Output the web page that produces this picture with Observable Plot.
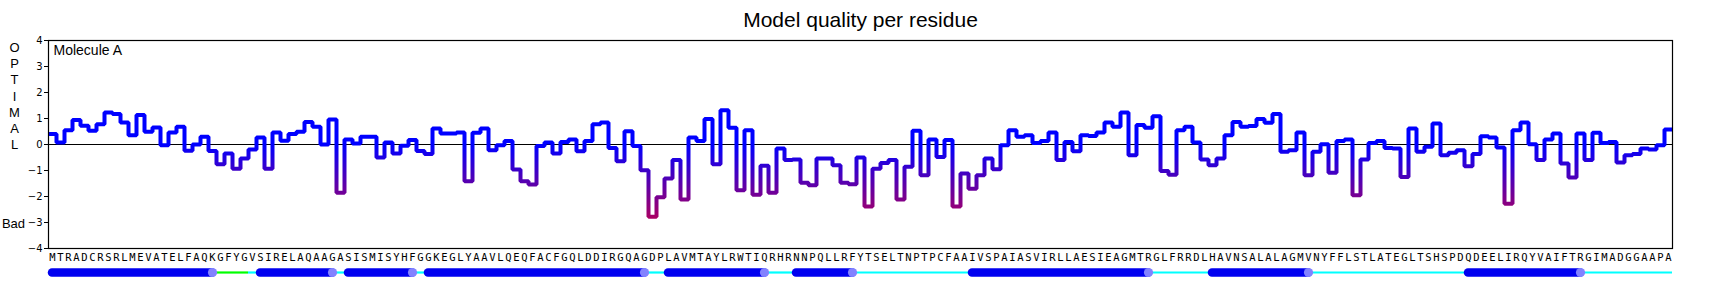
<!DOCTYPE html>
<html><head><meta charset="utf-8">
<script src="https://cdn.jsdelivr.net/npm/d3@7"></script>
<script src="https://cdn.jsdelivr.net/npm/@observablehq/plot@0.6"></script>
<style>html,body{margin:0;padding:0;background:#fff}</style>
</head><body><div id="chart"></div>
<script>
// ---- data ----
const title = "Model quality per residue";
const moleculeLabel = "Molecule A";
const goodLabel = "OPTIMAL";
const badLabel = "Bad";
const yTicks = [-4, -3, -2, -1, 0, 1, 2, 3, 4];
const sequence = "MTRADCRSRLMEVATELFAQKGFYGVSIRELAQAAGASISMISYHFGGKEGLYAAVLQEQFACFGQLDDIRGQAGDPLAVMTAYLRWTIQRHRNNPQLLRFYTSELTNPTPCFAAIVSPAIASVIRLLAESIEAGMTRGLFRRDLHAVNSALALAGMVNYFFLSTLATEGLTSHSPDQDEELIRQYVAIFTRGIMADGGAAPA";
const scores = [
  0.40, 0.08, 0.55, 0.94, 0.72, 0.53, 0.78, 1.23, 1.17, 0.85,
  0.36, 1.13, 0.49, 0.65, -0.03, 0.46, 0.68, -0.24, 0.00, 0.30,
  -0.25, -0.76, -0.35, -0.93, -0.54, -0.19, 0.27, -0.93, 0.46, 0.14,
  0.40, 0.49, 0.87, 0.68, 0.00, 0.96, -1.86, 0.19, 0.04, 0.30,
  0.30, -0.50, 0.08, -0.35, -0.05, 0.17, -0.25, -0.37, 0.62, 0.42,
  0.42, 0.46, -1.41, 0.45, 0.62, -0.22, -0.03, 0.13, -0.96, -1.41,
  -1.54, -0.06, 0.08, -0.35, 0.10, 0.19, -0.26, 0.13, 0.78, 0.85,
  -0.13, -0.64, 0.51, -0.06, -0.99, -2.78, -2.03, -1.31, -0.60, -2.12,
  0.27, 0.13, 0.98, -0.76, 1.32, 0.64, -1.76, 0.55, -1.93, -0.82,
  -1.86, -0.15, -0.60, -0.58, -1.47, -1.57, -0.54, -0.54, -0.80, -1.47,
  -1.53, -0.50, -2.38, -0.93, -0.71, -0.60, -2.12, -0.86, 0.53, -1.18,
  0.19, -0.48, 0.17, -2.38, -1.12, -1.70, -1.18, -0.54, -0.95, -0.03,
  0.55, 0.30, 0.36, 0.06, 0.13, 0.46, -0.60, 0.10, -0.26, 0.36,
  0.33, 0.46, 0.85, 0.68, 1.23, -0.41, 0.75, 0.64, 1.09, -1.02,
  -1.16, 0.55, 0.68, 0.08, -0.58, -0.80, -0.54, 0.36, 0.87, 0.68,
  0.71, 0.98, 0.84, 1.17, -0.28, -0.22, 0.46, -1.18, -0.28, 0.01,
  -1.09, 0.13, 0.19, -1.95, -0.58, 0.06, 0.13, -0.13, -0.15, -1.25,
  0.62, -0.28, -0.09, 0.81, -0.41, -0.32, -0.22, -0.84, -0.37, 0.32,
  0.27, -0.12, -2.28, 0.55, 0.85, 0.01, -0.60, 0.19, 0.42, -0.73,
  -1.27, 0.42, -0.60, 0.45, 0.06, 0.10, -0.69, -0.41, -0.37, -0.15,
  -0.19, -0.03, 0.58
];
// secondary structure (residue numbers)
const helixStart = [1, 27, 38, 48, 78, 94, 116, 146, 178];
const helixEnd   = [21, 36, 46, 75, 90, 101, 138, 158, 192];
const coilStart  = [22, 26, 37, 47, 76, 91, 102, 139, 159, 193];
const coilEnd    = [25, 26, 37, 47, 77, 93, 115, 145, 177, 203];
const coilType   = ["turn", "coil", "coil", "coil", "coil", "coil", "coil", "coil", "coil", "coil"];

// ---- derived tables ----
const residues = Array.from(sequence, (aa, k) => ({i: k + 1, aa, v: scores[k]}));
const linePts = residues.flatMap(d => [{x: d.i - 0.5, v: d.v}, {x: d.i + 0.5, v: d.v}]);
const helices = helixStart.map((s, k) => ({start: s, end: helixEnd[k]}));
const coils = coilStart.map((s, k) => ({x1: s - 0.5, x2: coilEnd[k] + 0.5, type: coilType[k]}));
const yMin = yTicks[0];

const plot = Plot.plot({
  width: 1720,
  height: 288,
  marginLeft: 48,
  marginRight: 48,
  marginTop: 40,
  marginBottom: 40,
  x: {domain: [0.5, sequence.length + 0.5], axis: null},
  y: {domain: [yTicks[0], yTicks[yTicks.length - 1]], axis: null},
  style: {fontFamily: "Liberation Sans, Arial, sans-serif", background: "white", color: "black"},
  marks: [
    Plot.ruleY([0], {stroke: "black", strokeWidth: 1}),
    Plot.line(linePts, {x: "x", y: "v", stroke: "url(#qgrad)", strokeWidth: 4, strokeLinejoin: "miter", strokeLinecap: "butt"}),
    Plot.frame({stroke: "black", strokeWidth: 1.2}),
    Plot.axisY({ticks: yTicks, tickSize: 4, tickPadding: 2, fontSize: 10, fontFamily: "DejaVu Sans", label: null}),
    Plot.text(residues, {x: "i", text: "aa", frameAnchor: "bottom", dy: 12, fontFamily: "DejaVu Sans Mono", fontSize: 10.5}),
    Plot.ruleY(coils, {x1: "x1", x2: "x2", y: () => yMin, dy: 24, stroke: d => d.type === "turn" ? "#00ff00" : "#00ffff", strokeWidth: 2.2}),
    Plot.ruleY(helices, {x1: "start", x2: "end", y: () => yMin, dy: 24, stroke: "#0000f0", strokeWidth: 8.5, strokeLinecap: "round"}),
    Plot.dot(helices, {x: "end", y: () => yMin, dy: 24, r: 4.6, fill: "#8282ff", stroke: null}),
    Plot.text([title], {frameAnchor: "top", dy: -28, fontSize: 21}),
    Plot.text([moleculeLabel], {frameAnchor: "top-left", dx: 5, dy: 5, lineAnchor: "top", textAnchor: "start", fontSize: 14}),
    Plot.text([goodLabel.split("").join("\n")], {frameAnchor: "top-left", dx: -34, dy: 0, lineAnchor: "top", lineHeight: 1.246, fontSize: 13, textAnchor: "middle"}),
    Plot.text([badLabel], {y: () => -3, frameAnchor: "left", dx: -35, dy: 1.5, fontSize: 13, textAnchor: "middle"})
  ]
});

// vertical colour gradient tied to the y scale
const ys = plot.scale("y");
const svg = d3.select(plot);
const grad = svg.insert("defs", ":first-child").append("linearGradient")
  .attr("id", "qgrad").attr("gradientUnits", "userSpaceOnUse")
  .attr("x1", 0).attr("x2", 0)
  .attr("y1", ys.apply(0)).attr("y2", ys.apply(-3));
grad.append("stop").attr("offset", 0).attr("stop-color", "#0000ff");
grad.append("stop").attr("offset", 1).attr("stop-color", "#b4005a");

document.getElementById("chart").appendChild(plot);
</script>
</body></html>
